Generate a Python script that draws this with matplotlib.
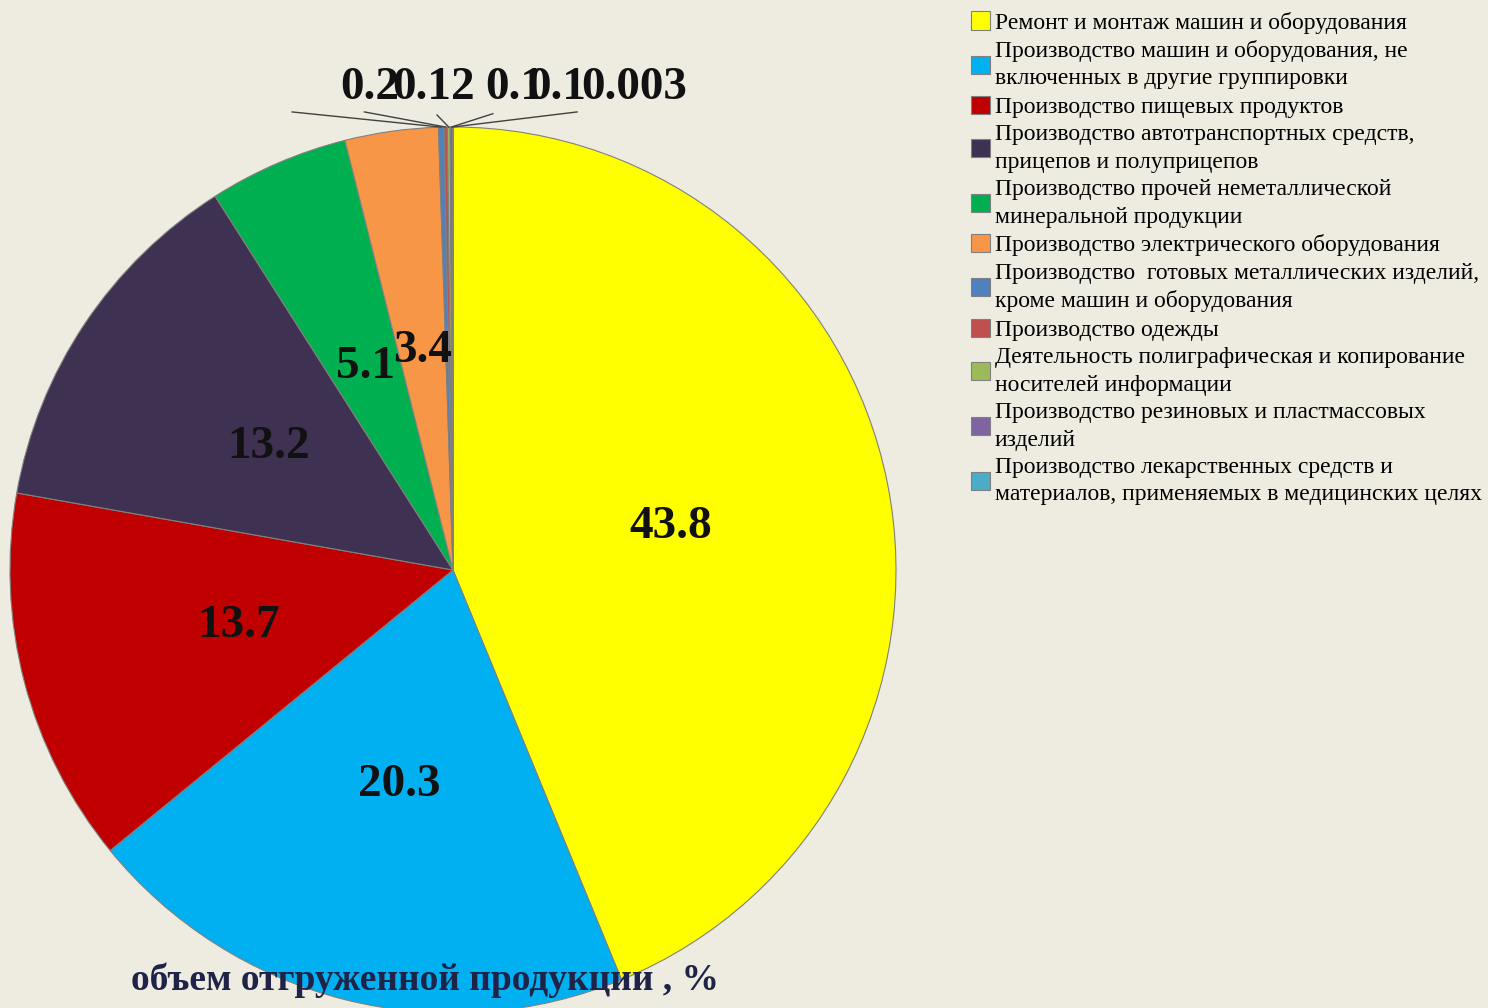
import numpy as np
import matplotlib
matplotlib.use("Agg")
import matplotlib.pyplot as plt

categories = [
    "Ремонт и монтаж машин и оборудования",
    "Производство машин и оборудования, не\nвключенных в другие группировки",
    "Производство пищевых продуктов",
    "Производство автотранспортных средств,\nприцепов и полуприцепов",
    "Производство прочей неметаллической\nминеральной продукции",
    "Производство электрического оборудования",
    "Производство  готовых металлических изделий,\nкроме машин и оборудования",
    "Производство одежды",
    "Деятельность полиграфическая и копирование\nносителей информации",
    "Производство резиновых и пластмассовых\nизделий",
    "Производство лекарственных средств и\nматериалов, применяемых в медицинских целях",
]
values = [43.8, 20.3, 13.7, 13.2, 5.1, 3.4, 0.2, 0.12, 0.1, 0.1, 0.003]
value_labels = ["43.8", "20.3", "13.7", "13.2", "5.1", "3.4",
                "0.2", "0.12", "0.1", "0.1", "0.003"]
colors = ["#FFFF00", "#00B0F0", "#C00000", "#3F3151", "#00B050", "#F79646",
          "#4F81BD", "#C0504D", "#9BBB59", "#8064A2", "#4BACC6"]
title = "объем отгруженной продукции , %"

BG = "#EEECE1"
SERIF = ["Liberation Serif", "DejaVu Serif"]

fig = plt.figure(figsize=(14.88, 10.08), dpi=100, facecolor=BG)
# pie: centre ~(453, 570) px, radius ~443 px
W, H = 1488, 1008
cx, cy, r = 453, 570, 443
ax = fig.add_axes([(cx - r) / W, (H - cy - r) / H, 2 * r / W, 2 * r / H])
ax.patch.set_alpha(0)

wedges, _ = ax.pie(values, colors=colors, startangle=90, counterclock=False,
                   radius=1.0, wedgeprops=dict(edgecolor="#808080", linewidth=0.8))
ax.set_xlim(-1, 1)
ax.set_ylim(-1, 1)
ax.set_aspect("equal")
ax.axis("off")

# labels for the big slices, inside at 0.5 r
n_big = 6
for w, lab in zip(wedges[:n_big], value_labels[:n_big]):
    ang = np.deg2rad((w.theta1 + w.theta2) / 2)
    ax.text(0.5 * np.cos(ang), 0.5 * np.sin(ang), lab, ha="center", va="center",
            fontsize=34, fontweight="bold", family=SERIF, color="#111111")

# small slices: labels above the pie with leader lines (they overlap, as in the original)
label_x = [-0.187, -0.045, 0.14, 0.235, 0.41]
line_end = [(-0.363, 1.034), (-0.2, 1.034), (-0.036, 1.027), (0.09, 1.03), (0.28, 1.034)]
for w, lab, lx, (ex, ey) in zip(wedges[n_big:], value_labels[n_big:], label_x, line_end):
    ang = np.deg2rad((w.theta1 + w.theta2) / 2)
    sx, sy = np.cos(ang), np.sin(ang)
    ax.plot([sx, ex], [sy, ey], color="#404040", lw=1.0, clip_on=False)
    ax.text(lx, 1.088, lab, ha="center", va="center", fontsize=34,
            fontweight="bold", family=SERIF, color="#111111", clip_on=False)

fig.text(425 / W, 1 - 980 / H, title, ha="center", va="center", fontsize=27,
         fontweight="bold", family=SERIF, color="#1F2347")

leg = fig.legend(wedges, categories, loc="upper left",
                 bbox_to_anchor=(962 / W, 1 - 2 / H), frameon=False,
                 prop=dict(family=SERIF, size=17), handlelength=0.8,
                 handleheight=0.8, handletextpad=0.2, labelspacing=0.27,
                 borderaxespad=0)
for t in leg.get_texts():
    t.set_linespacing(1.4)

fig.savefig("out.png", dpi=100, facecolor=BG)
